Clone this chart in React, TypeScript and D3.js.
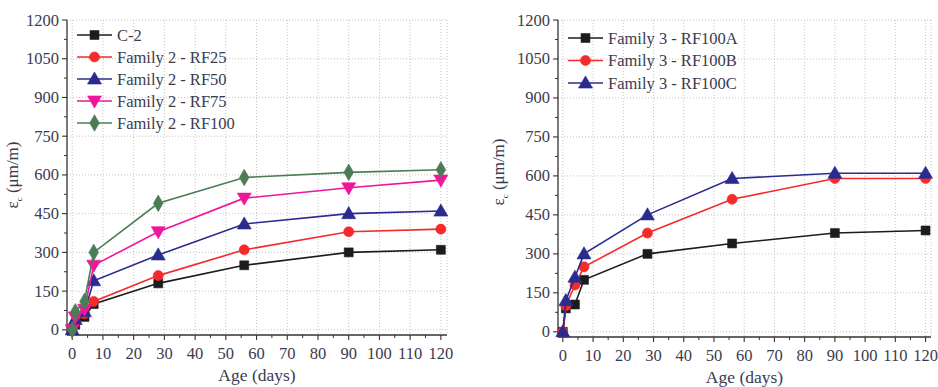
import React from "react";
import * as d3 from "d3";

const W = 938;
const H = 387;

const days = [0, 1, 4, 7, 28, 56, 90, 120];

// Family 2
const c2 = [0, 20, 50, 100, 180, 250, 300, 310];
const rf25 = [0, 30, 62, 110, 210, 310, 380, 390];
const rf50 = [0, 40, 70, 190, 290, 410, 450, 460];
const rf75 = [0, 50, 80, 250, 380, 510, 550, 580];
const rf100 = [0, 70, 110, 300, 490, 590, 610, 620];

// Family 3
const rf100a = [0, 90, 105, 200, 300, 340, 380, 390];
const rf100b = [0, 100, 180, 250, 380, 510, 590, 590];
const rf100c = [0, 120, 210, 300, 450, 590, 610, 610];

const xTicks = [0, 10, 20, 30, 40, 50, 60, 70, 80, 90, 100, 110, 120];
const yTicks = [0, 150, 300, 450, 600, 750, 900, 1050, 1200];

const family2Names = ["C-2", "Family 2 - RF25", "Family 2 - RF50", "Family 2 - RF75", "Family 2 - RF100"];
const family3Names = ["Family 3 - RF100A", "Family 3 - RF100B", "Family 3 - RF100C"];

type Marker = "square" | "circle" | "triangle" | "triangleDown" | "diamond";

interface Series {
  name: string;
  values: number[];
  color: string;
  marker: Marker;
}

const BLACK = "#1c1c1c";
const RED = "#f52a2a";
const BLUE = "#2b2b8f";
const PINK = "#f0169a";
const GREEN = "#4b7c55";
const TEXT = "#3b3b4e";
const FONT = "Liberation Serif, Times New Roman, serif";

const family2: Series[] = [
  { name: family2Names[0], values: c2, color: BLACK, marker: "square" },
  { name: family2Names[1], values: rf25, color: RED, marker: "circle" },
  { name: family2Names[2], values: rf50, color: BLUE, marker: "triangle" },
  { name: family2Names[3], values: rf75, color: PINK, marker: "triangleDown" },
  { name: family2Names[4], values: rf100, color: GREEN, marker: "diamond" },
];

const family3: Series[] = [
  { name: family3Names[0], values: rf100a, color: BLACK, marker: "square" },
  { name: family3Names[1], values: rf100b, color: RED, marker: "circle" },
  { name: family3Names[2], values: rf100c, color: BLUE, marker: "triangle" },
];

function markerPath(m: Marker): string {
  switch (m) {
    case "square":
      return d3.symbol(d3.symbolSquare, 80)()!;
    case "circle":
      return d3.symbol(d3.symbolCircle, 80)()!;
    case "triangle":
    case "triangleDown":
      return d3.symbol(d3.symbolTriangle, 85)()!;
    case "diamond":
      return d3.symbol(d3.symbolDiamond, 80)()!;
  }
}

function MarkerShape({ m, x, y, color }: { m: Marker; x: number; y: number; color: string }) {
  const rot = m === "triangleDown" ? " rotate(180)" : "";
  const dy = m === "triangle" ? 1 : m === "triangleDown" ? -1 : 0;
  return <path d={markerPath(m)} transform={`translate(${x},${y + dy})${rot}`} fill={color} stroke={color} strokeWidth={0.6} />;
}

interface PanelProps {
  x0: number;
  x1: number;
  yTop: number;
  yBottom: number;
  xDomain: [number, number];
  series: Series[];
  legendX: number;
  legendY: number;
  legendStep: number;
  titleX: number;
  titleY: number;
}

const textStyle = { fontFamily: FONT };

function Panel(p: PanelProps) {
  const x = d3.scaleLinear().domain(p.xDomain).range([p.x0, p.x1]);
  const y = d3.scaleLinear().domain([-20, 1200]).range([p.yBottom, p.yTop]);
  const line = d3
    .line<[number, number]>()
    .x((d) => x(d[0]))
    .y((d) => y(d[1]));

  const xMinor = d3.range(5, 120, 10);
  const yMinor = d3.range(75, 1200, 150);

  return (
    <g>
      {/* dotted grid */}
      {xTicks.map((t) => (
        <line key={"gx" + t} x1={x(t)} x2={x(t)} y1={p.yTop} y2={p.yBottom} stroke="#c4c4c4" strokeWidth={1} strokeDasharray="1,2" />
      ))}
      {yTicks.map((t) => (
        <line key={"gy" + t} x1={p.x0} x2={p.x1} y1={y(t)} y2={y(t)} stroke="#c4c4c4" strokeWidth={1} strokeDasharray="1,2" />
      ))}
      <line x1={p.x1} x2={p.x1} y1={p.yTop} y2={p.yBottom} stroke="#c4c4c4" strokeDasharray="1,2" />

      {/* axes */}
      <line x1={p.x0} x2={p.x0} y1={p.yTop} y2={p.yBottom} stroke="#333" strokeWidth={1.3} />
      <line x1={p.x0} x2={p.x1} y1={p.yBottom} y2={p.yBottom} stroke="#333" strokeWidth={1.3} />
      {xTicks.map((t) => (
        <g key={"xt" + t}>
          <line x1={x(t)} x2={x(t)} y1={p.yBottom} y2={p.yBottom + 5} stroke="#333" strokeWidth={1.1} />
          <text x={x(t)} y={p.yBottom + 24} textAnchor="middle" style={textStyle} fontSize={16.5} fill={TEXT}>
            {t}
          </text>
        </g>
      ))}
      {xMinor.map((t) => (
        <line key={"xm" + t} x1={x(t)} x2={x(t)} y1={p.yBottom} y2={p.yBottom + 3} stroke="#333" strokeWidth={1} />
      ))}
      {yTicks.map((t) => (
        <g key={"yt" + t}>
          <line x1={p.x0 - 5} x2={p.x0} y1={y(t)} y2={y(t)} stroke="#333" strokeWidth={1.1} />
          <text x={p.x0 - 8} y={y(t) + 5.5} textAnchor="end" style={textStyle} fontSize={16.5} fill={TEXT}>
            {t}
          </text>
        </g>
      ))}
      {yMinor.map((t) => (
        <line key={"ym" + t} x1={p.x0 - 3} x2={p.x0} y1={y(t)} y2={y(t)} stroke="#333" strokeWidth={1} />
      ))}

      {/* axis titles */}
      <text x={(p.x0 + p.x1) / 2} y={p.yBottom + 46} textAnchor="middle" style={textStyle} fontSize={17.5} fill={TEXT}>
        Age (days)
      </text>
      <text
        transform={`translate(${p.titleX},${p.titleY}) rotate(-90)`}
        textAnchor="middle"
        style={textStyle}
        fontSize={17}
        fill={TEXT}
      >
        ε<tspan fontSize={9} dy={4}>c</tspan>
        <tspan dy={-4}>{"  (μm/m)"}</tspan>
      </text>

      {/* series */}
      {p.series.map((s) => {
        const pts = days.map((d, i) => [d, s.values[i]] as [number, number]);
        return (
          <g key={s.name}>
            <path d={line(pts)!} fill="none" stroke={s.color} strokeWidth={1.6} />
            {pts.map((pt, i) => (
              <MarkerShape key={i} m={s.marker} x={x(pt[0])} y={y(pt[1])} color={s.color} />
            ))}
          </g>
        );
      })}

      {/* legend */}
      {p.series.map((s, i) => {
        const ly = p.legendY + i * p.legendStep;
        return (
          <g key={"lg" + s.name}>
            <line x1={p.legendX} x2={p.legendX + 35} y1={ly} y2={ly} stroke={s.color} strokeWidth={1.6} />
            <MarkerShape m={s.marker} x={p.legendX + 17.5} y={ly} color={s.color} />
            <text x={p.legendX + 40} y={ly + 5.5} style={textStyle} fontSize={16.5} fill={TEXT}>
              {s.name}
            </text>
          </g>
        );
      })}
    </g>
  );
}

export default function App() {
  return (
    <svg
      width={W}
      height={H}
      style={{ display: "block", background: "#fff", position: "fixed", left: 0, top: 0 }}
    >
      <Panel
        x0={67}
        x1={447}
        yTop={20}
        yBottom={335}
        xDomain={[-1.7, 122]}
        series={family2}
        legendX={77}
        legendY={35}
        legendStep={22}
        titleX={18}
        titleY={175}
      />
      <Panel
        x0={558}
        x1={931}
        yTop={20}
        yBottom={337}
        xDomain={[-1.6, 121.8]}
        series={family3}
        legendX={568}
        legendY={38}
        legendStep={22.5}
        titleX={504}
        titleY={172}
      />
    </svg>
  );
}
